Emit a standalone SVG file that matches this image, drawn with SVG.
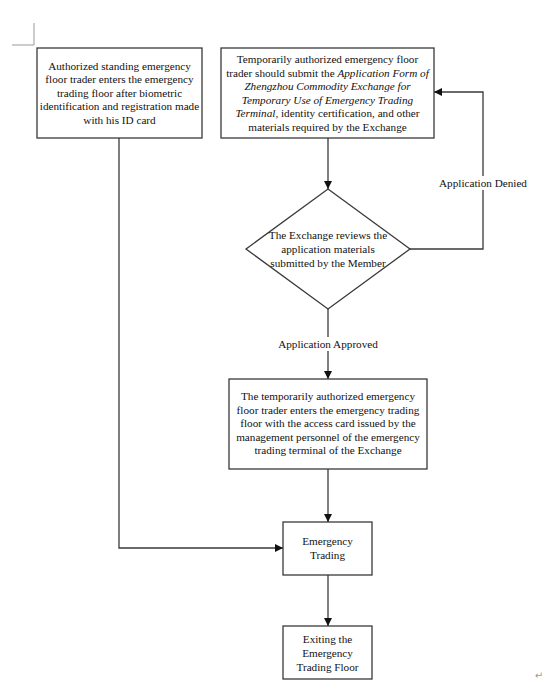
<svg xmlns="http://www.w3.org/2000/svg" width="554" height="691" viewBox="0 0 554 691">
<defs>
<style>
.box{fill:#fff;stroke:#3a3a3a;stroke-width:1.3}
.ln{fill:none;stroke:#3a3a3a;stroke-width:1.3}
.t{font-family:"Liberation Serif","Times New Roman",serif;font-size:11.2px;fill:#111;text-anchor:middle}
.i{font-style:italic}
.lbl{fill:#fff;stroke:none}
</style>
<marker id="ah" markerUnits="userSpaceOnUse" markerWidth="8" markerHeight="8" refX="8" refY="4" orient="auto">
<path d="M0,0 L8,4 L0,8 z" fill="#111"/>
</marker>
</defs>
<rect width="554" height="691" fill="#fff"/>
<g id="corner-mark" stroke="#999" stroke-width="1" fill="none">
<path d="M34,23 V45 H12"/>
</g>
<g id="connectors">
<path class="ln" d="M119,138 V548 H283" marker-end="url(#ah)"/>
<path class="ln" d="M328,138 V189" marker-end="url(#ah)"/>
<path class="ln" d="M410,249 H483 V92 H434" marker-end="url(#ah)"/>
<path class="ln" d="M328,309 V379" marker-end="url(#ah)"/>
<path class="ln" d="M328,469 V522" marker-end="url(#ah)"/>
<path class="ln" d="M328,575 V626" marker-end="url(#ah)"/>
<g id="label-denied">
<rect class="lbl" x="438" y="176" width="91" height="14"/>
<text class="t" x="483" y="187">Application Denied</text>
</g>
<g id="label-approved">
<rect class="lbl" x="276" y="337" width="104" height="14"/>
<text class="t" x="328" y="348">Application Approved</text>
</g>
</g>
<g id="node-standing">
<rect class="box" x="37" y="48" width="165" height="90"/>
<text class="t" x="119.5" y="69.5">Authorized standing emergency</text>
<text class="t" x="119.5" y="83">floor trader enters the emergency</text>
<text class="t" x="119.5" y="96.5">trading floor after biometric</text>
<text class="t" x="119.5" y="110">identification and registration made</text>
<text class="t" x="119.5" y="123.5">with his ID card</text>
</g>
<g id="node-temporary">
<rect class="box" x="221" y="48" width="213" height="90"/>
<text class="t" x="327.5" y="63">Temporarily authorized emergency floor</text>
<text class="t" x="327.5" y="76.5">trader should submit the <tspan class="i">Application Form of</tspan></text>
<text class="t i" x="327.5" y="90">Zhengzhou Commodity Exchange for</text>
<text class="t i" x="327.5" y="103.5">Temporary Use of Emergency Trading</text>
<text class="t" x="327.5" y="117"><tspan class="i">Terminal</tspan>, identity certification, and other</text>
<text class="t" x="327.5" y="130.5">materials required by the Exchange</text>
</g>
<g id="node-review">
<path class="box" d="M328,189 L410,249 L328,309 L246,249 Z"/>
<text class="t" x="328" y="239">The Exchange reviews the</text>
<text class="t" x="328" y="253">application materials</text>
<text class="t" x="328" y="267">submitted by the Member</text>
</g>
<g id="node-enter">
<rect class="box" x="229" y="379" width="198" height="90"/>
<text class="t" x="328" y="400">The temporarily authorized emergency</text>
<text class="t" x="328" y="413.5">floor trader enters the emergency trading</text>
<text class="t" x="328" y="427">floor with the access card issued by the</text>
<text class="t" x="328" y="440.5">management personnel of the emergency</text>
<text class="t" x="328" y="454">trading terminal of the Exchange</text>
</g>
<g id="node-trading">
<rect class="box" x="283" y="522" width="89" height="53"/>
<text class="t" x="327.5" y="545">Emergency</text>
<text class="t" x="327.5" y="559">Trading</text>
</g>
<g id="node-exit">
<rect class="box" x="283" y="626" width="89" height="53"/>
<text class="t" x="327.5" y="643">Exiting the</text>
<text class="t" x="327.5" y="657">Emergency</text>
<text class="t" x="327.5" y="670.5">Trading Floor</text>
</g>
<text x="539" y="679" style="font-family:'DejaVu Sans',sans-serif;font-size:10px;fill:#999;text-anchor:middle">↵</text>
</svg>
